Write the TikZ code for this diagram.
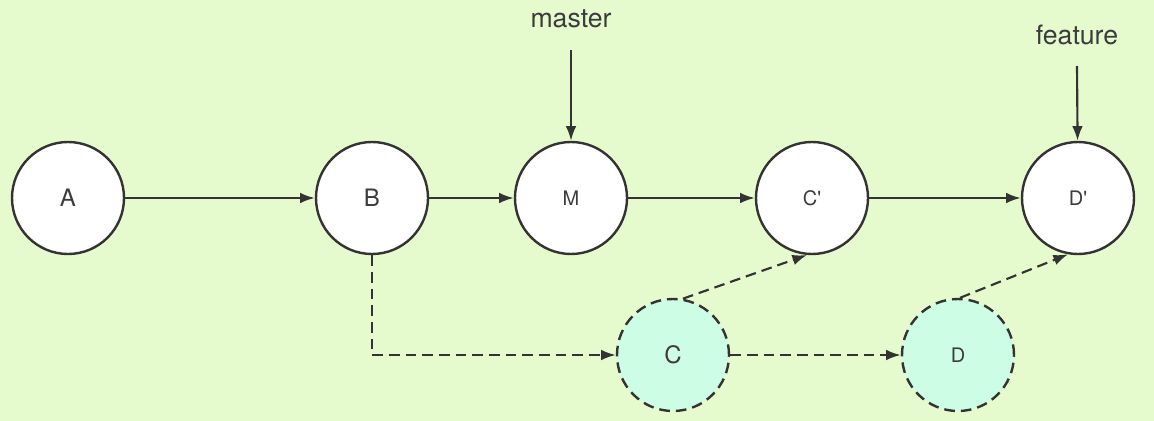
\documentclass[tikz,border=0pt]{standalone}
\usepackage{fontspec}
\setmainfont{TeX Gyre Heros}
\usetikzlibrary{arrows.meta}
\definecolor{bgGreen}{RGB}{230,251,205}
\definecolor{oldFill}{RGB}{205,253,228}
\definecolor{lineGray}{RGB}{51,51,51}
\definecolor{textGray}{RGB}{60,60,60}
\begin{document}
\begin{tikzpicture}[x=0.75pt,y=0.75pt,yscale=-1,xscale=1,
    commit/.style={circle,draw=lineGray,line width=1.8pt,fill=white,inner sep=0pt,minimum size=84pt,text=textGray},
    oldcommit/.style={commit,fill=oldFill,dash pattern=on 8pt off 4.5pt},
    big/.style={font=\fontsize{18}{20}\selectfont},
    small/.style={font=\fontsize{15}{17}\selectfont},
    link/.style={draw=lineGray,line width=1.6pt,-{Latex[length=11pt,width=8pt]}},
    oldlink/.style={link,dash pattern=on 8pt off 4.5pt},
    branch/.style={text=textGray,font=\fontsize{20}{24}\selectfont}]
        %set diagram area: 1154 x 421
        \fill [bgGreen] (0,0) rectangle (1154,421) ;
        \useasboundingbox (0,0) rectangle (1154,421) ;
        % Commits
        \node [commit,big] (A) at (68,198) {A};
        \node [commit,big] (B) at (372,198) {B};
        \node [commit,small] (M) at (571,198) {M};
        \node [commit,small] (Cp) at (812,198) {C\textquotesingle};
        \node [commit,small] (Dp) at (1078,198) {D\textquotesingle};
        \node [oldcommit,big] (C) at (673,355) {C};
        \node [oldcommit,small] (D) at (958,355) {D};
        % Branch labels
        \node [branch] (master) at (571,19) {master};
        \node [branch] (feature) at (1077,35) {feature};
        \coordinate (masterTop) at (571,50) ;
        \coordinate (featureTop) at (1077,66) ;
        % Links
        \draw [link] (A) -- (B) ;
        \draw [link] (B) -- (M) ;
        \draw [link] (M) -- (Cp) ;
        \draw [link] (Cp) -- (Dp) ;
        \draw [link] (masterTop) -- (M) ;
        \draw [link] (featureTop) -- (Dp) ;
        % Rebased commits
        \draw [oldlink] (B.south) |- (C.west) ;
        \draw [oldlink] (C) -- (D) ;
        \draw [oldlink] (C.80) -- (Cp.-95) ;
        \draw [oldlink] (D.88) -- (Dp.-100) ;
\end{tikzpicture}
\end{document}
